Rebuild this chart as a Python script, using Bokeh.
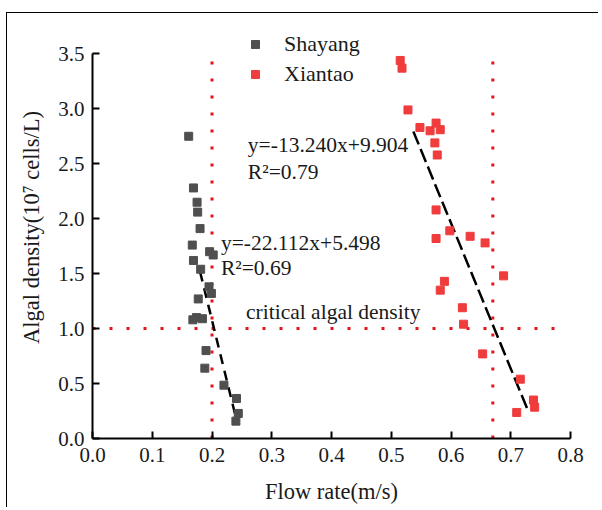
from bokeh.plotting import figure
from bokeh.models import (Range1d, SingleIntervalTicker, NumeralTickFormatter,
                          Legend, LegendItem, ColumnDataSource)
from bokeh.core.properties import value
from bokeh.embed import file_html
from bokeh.resources import INLINE

# ---- data ----
shayang_x = [0.161, 0.169, 0.175, 0.176, 0.180, 0.167, 0.196, 0.202, 0.169, 0.181,
             0.195, 0.199, 0.177, 0.168, 0.174, 0.184, 0.190, 0.188, 0.220, 0.241,
             0.244, 0.240]
shayang_y = [2.75, 2.28, 2.15, 2.06, 1.91, 1.76, 1.70, 1.67, 1.62, 1.54,
             1.38, 1.32, 1.27, 1.08, 1.10, 1.09, 0.80, 0.64, 0.485, 0.364,
             0.228, 0.158]
xiantao_x = [0.515, 0.518, 0.528, 0.548, 0.565, 0.575, 0.582, 0.573, 0.577, 0.575,
             0.598, 0.632, 0.575, 0.657, 0.688, 0.589, 0.582, 0.619, 0.621, 0.653,
             0.716, 0.738, 0.740, 0.710]
xiantao_y = [3.44, 3.37, 2.99, 2.83, 2.80, 2.87, 2.81, 2.69, 2.58, 2.08,
             1.89, 1.84, 1.82, 1.78, 1.48, 1.43, 1.35, 1.19, 1.04, 0.77,
             0.54, 0.35, 0.285, 0.237]

# linear fits: slope, intercept, x-extent
shayang_fit = (-22.112, 5.498)
shayang_fit_x = [0.180, 0.240]
xiantao_fit = (-13.240, 9.904)
xiantao_fit_x = [0.537, 0.730]

critical_flow = [0.20, 0.67]      # vertical dotted lines (m/s)
critical_density = 1.0            # horizontal dotted line
vline_top = 3.45
hline_right = 0.78

x_ticks_interval = 0.1
y_ticks_interval = 0.5

FONT = "Liberation Serif"
RED_DOT = "#e8121a"
GREY = "#4f4f4f"
RED = "#f03c3c"
TXT = "#1a1a1a"

p = figure(width=592, height=495, output_backend="svg", toolbar_location=None,
           x_range=Range1d(0, 0.8), y_range=Range1d(0, 3.84),
           min_border_left=85, min_border_right=29, min_border_top=3,
           min_border_bottom=70,
           styles={"border-top": "1.5px solid black",
                   "border-left": "1.5px solid black",
                   "margin-top": "12px", "margin-left": "6px"})
p.outline_line_color = None
p.xgrid.visible = False
p.ygrid.visible = False
p.background_fill_color = "white"
p.border_fill_color = "white"

for ax, interval in ((p.xaxis[0], x_ticks_interval), (p.yaxis[0], y_ticks_interval)):
    ax.ticker = SingleIntervalTicker(interval=interval, num_minor_ticks=0)
    ax.formatter = NumeralTickFormatter(format="0.0")
    ax.major_tick_in = 7
    ax.major_tick_out = 0
    ax.minor_tick_line_color = None
    ax.axis_line_width = 2
    ax.major_tick_line_width = 2
    ax.axis_line_color = "black"
    ax.major_tick_line_color = "black"
    ax.major_label_text_font = FONT
    ax.major_label_text_font_size = "21px"
    ax.major_label_text_color = TXT
    ax.axis_label_text_font = FONT
    ax.axis_label_text_font_size = "22.5px"
    ax.axis_label_text_font_style = "normal"
    ax.axis_label_text_color = TXT

p.yaxis[0].bounds = (0, 3.5)
p.xaxis[0].axis_label = "Flow rate(m/s)"
p.yaxis[0].axis_label = "Algal density(10\u2077 cells/L)"
p.xaxis[0].major_label_standoff = 9
p.yaxis[0].major_label_standoff = 8
p.xaxis[0].axis_label_standoff = 14
p.yaxis[0].axis_label_standoff = 11

# dotted reference lines
p.segment(x0=critical_flow, y0=[0, 0], x1=critical_flow, y1=[vline_top, vline_top],
          line_color=RED_DOT, line_width=3, line_dash="3 14")
p.segment(x0=[0.0], y0=[critical_density], x1=[hline_right], y1=[critical_density],
          line_color=RED_DOT, line_width=3, line_dash="3 14")

# fit lines
for (m, b), xs, dash in ((shayang_fit, shayang_fit_x, "10 7"),
                         (xiantao_fit, xiantao_fit_x, "14 5")):
    ys = [m * x + b for x in xs]
    p.line(xs, ys, line_color="black", line_width=2.5, line_dash=dash)

r_sh = p.scatter(shayang_x, shayang_y, marker="square", size=8,
                 fill_color=GREY, line_color=GREY)
r_xt = p.scatter(xiantao_x, xiantao_y, marker="square", size=8,
                 fill_color=RED, line_color=RED)

# annotations
labels = [
    (0.260, 2.67, "y=-13.240x+9.904"),
    (0.260, 2.425, "R\u00b2=0.79"),
    (0.215, 1.78, "y=-22.112x+5.498"),
    (0.215, 1.55, "R\u00b2=0.69"),
    (0.257, 1.15, "critical algal density"),
]
src = ColumnDataSource(dict(x=[l[0] for l in labels], y=[l[1] for l in labels],
                            t=[l[2] for l in labels]))
p.text(x="x", y="y", text="t", source=src, text_font=value(FONT),
       text_font_size="21.5px", text_baseline="middle", text_align="left",
       text_color=TXT)

legend = Legend(items=[LegendItem(label="Shayang", renderers=[r_sh]),
                       LegendItem(label="Xiantao", renderers=[r_xt])],
                location=(153, 351), orientation="vertical",
                padding=0, margin=0, spacing=4, glyph_width=20, glyph_height=20,
                label_standoff=19, label_height=20,
                label_text_font=FONT, label_text_font_size="22px",
                label_text_color=TXT,
                border_line_color=None, background_fill_alpha=0)
p.add_layout(legend, "center")

open("out.html", "w").write(file_html(p, INLINE))
